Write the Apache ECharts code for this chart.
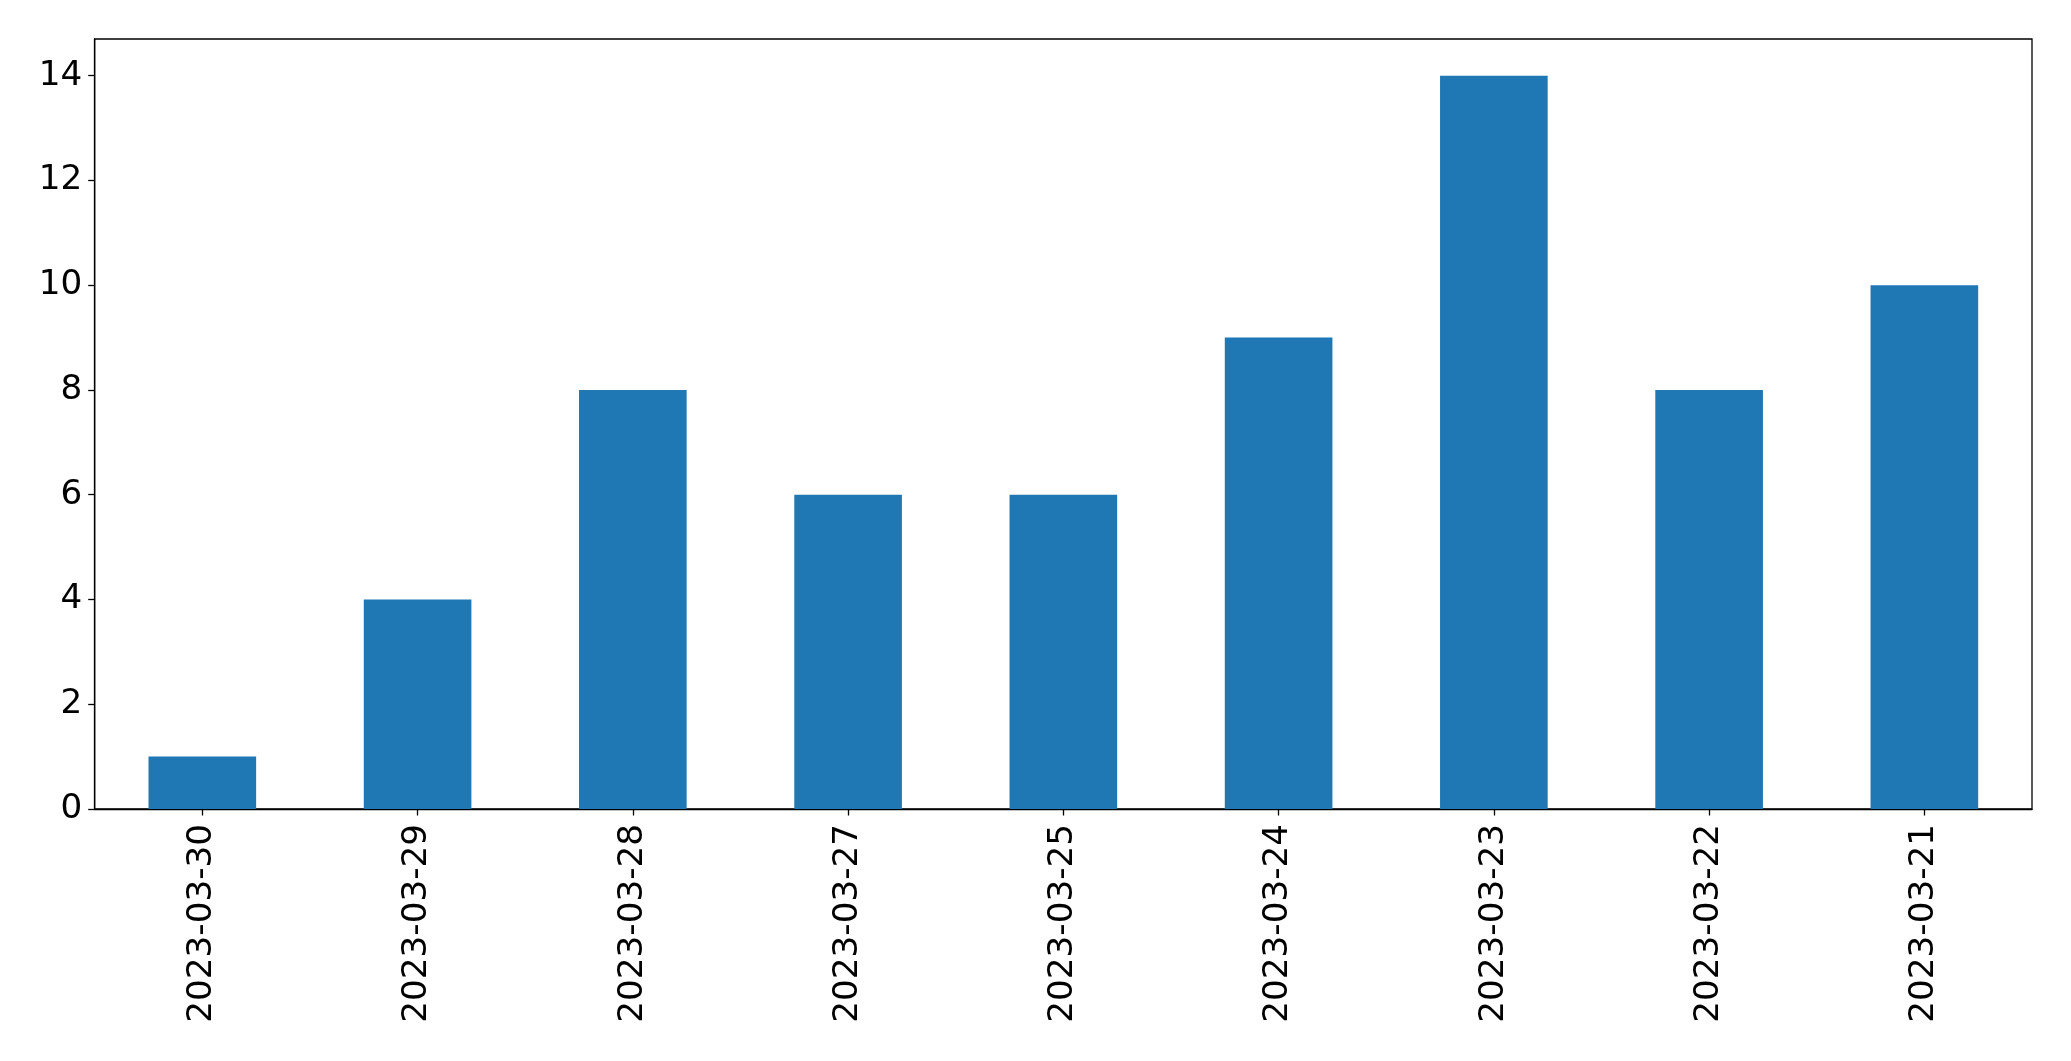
<!DOCTYPE html>
<html><head><meta charset="utf-8">
<script src="https://cdn.jsdelivr.net/npm/echarts@6/dist/echarts.min.js"></script>
<style>html,body{margin:0;padding:0;background:#fff}#c{width:2071px;height:1061px}</style>
</head><body><div id="c"></div>
<script>
const categories = ['2023-03-30','2023-03-29','2023-03-28','2023-03-27','2023-03-25','2023-03-24','2023-03-23','2023-03-22','2023-03-21'];
const values = [1,4,8,6,6,9,14,8,10];
const yTicks = [0,2,4,6,8,10,12,14];

const chart = echarts.init(document.getElementById('c'), null, {renderer:'canvas'});
const font = 'DejaVu Sans';
chart.setOption({
  animation:false,
  backgroundColor:'#fff',
  grid:{left:94.7, right:39, top:39, bottom:252, show:true, borderColor:'#000', borderWidth:1.3, containLabel:false},
  xAxis:{
    type:'category', data:categories, boundaryGap:true,
    axisLine:{show:true, lineStyle:{color:'#000', width:1.3}},
    axisTick:{show:true, alignWithLabel:true, length:6.5, lineStyle:{color:'#000', width:1.3}},
    axisLabel:{rotate:90, margin:15, color:'#000', fontFamily:font, fontSize:34.2, interval:0},
    splitLine:{show:false}
  },
  yAxis:{
    type:'value', min:0, max:14.7,
    axisLine:{show:true, lineStyle:{color:'#000', width:1.3}},
    axisTick:{show:true, length:6.5, lineStyle:{color:'#000', width:1.3}, customValues:yTicks},
    axisLabel:{margin:12.5, color:'#000', fontFamily:font, fontSize:34.2, customValues:yTicks},
    splitLine:{show:false}
  },
  series:[{type:'bar', data:values, barWidth:'50%', itemStyle:{color:'#1f77b4'}}]
});
</script></body></html>
